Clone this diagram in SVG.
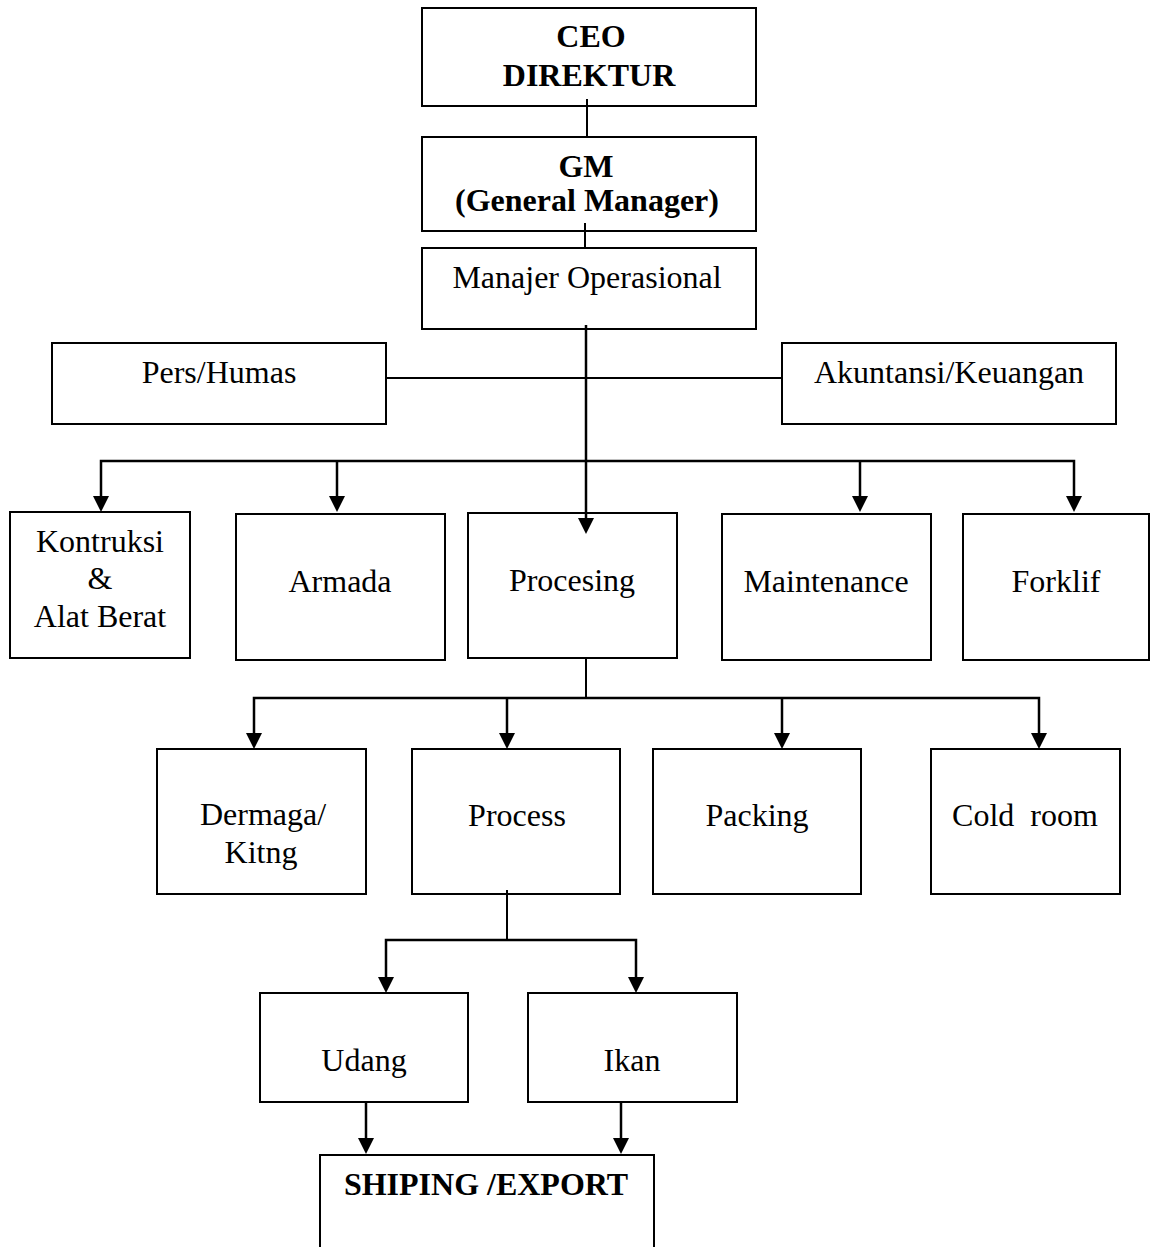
<svg xmlns="http://www.w3.org/2000/svg" width="1151" height="1247" viewBox="0 0 1151 1247">
<style>
.box{fill:#fff;stroke:#000;stroke-width:2}
.t{font-family:"Liberation Serif","Times New Roman",serif;font-size:32px;fill:#000;text-anchor:middle}
.b{font-weight:bold}
.c{fill:none;stroke:#000;stroke-width:2}
.a{fill:none;stroke:#000;stroke-width:2.5}
</style>
<defs>
<path id="ah" d="M-8,-16 L8,-16 L0,0 Z" fill="#000"/>
</defs>
<rect width="1151" height="1247" fill="#fff"/>
<g id="ceo"><rect class="box" x="422" y="8" width="334" height="98"/><text class="t b" x="591" y="47">CEO</text><text class="t b" x="589" y="86">DIREKTUR</text></g>
<g id="gm"><rect class="box" x="422" y="137" width="334" height="94"/><text class="t b" x="586" y="177">GM</text><text class="t b" x="587" y="211">(General Manager)</text></g>
<g id="manajer"><rect class="box" x="422" y="248" width="334" height="81"/><text class="t" x="587" y="288">Manajer Operasional</text></g>
<g id="pers"><rect class="box" x="52" y="343" width="334" height="81"/><text class="t" x="219" y="383">Pers/Humas</text></g>
<g id="akuntansi"><rect class="box" x="782" y="343" width="334" height="81"/><text class="t" x="949" y="383">Akuntansi/Keuangan</text></g>
<g id="kontruksi"><rect class="box" x="10" y="512" width="180" height="146"/><text class="t" x="100" y="552">Kontruksi</text><text class="t" x="100" y="589">&amp;</text><text class="t" x="100" y="627">Alat Berat</text></g>
<g id="armada"><rect class="box" x="236" y="514" width="209" height="146"/><text class="t" x="340" y="592">Armada</text></g>
<g id="procesing"><rect class="box" x="468" y="513" width="209" height="145"/><text class="t" x="572" y="591">Procesing</text></g>
<g id="maintenance"><rect class="box" x="722" y="514" width="209" height="146"/><text class="t" x="826" y="592">Maintenance</text></g>
<g id="forklif"><rect class="box" x="963" y="514" width="186" height="146"/><text class="t" x="1056" y="592">Forklif</text></g>
<g id="dermaga"><rect class="box" x="157" y="749" width="209" height="145"/><text class="t" x="263" y="825">Dermaga/</text><text class="t" x="261" y="863">Kitng</text></g>
<g id="process"><rect class="box" x="412" y="749" width="208" height="145"/><text class="t" x="517" y="826">Process</text></g>
<g id="packing"><rect class="box" x="653" y="749" width="208" height="145"/><text class="t" x="757" y="826">Packing</text></g>
<g id="coldroom"><rect class="box" x="931" y="749" width="189" height="145"/><text class="t" x="1025" y="826" xml:space="preserve">Cold  room</text></g>
<g id="udang"><rect class="box" x="260" y="993" width="208" height="109"/><text class="t" x="364" y="1071">Udang</text></g>
<g id="ikan"><rect class="box" x="528" y="993" width="209" height="109"/><text class="t" x="632" y="1071">Ikan</text></g>
<g id="shipping"><path class="c" d="M320,1250 L320,1155 L654,1155 L654,1250"/><text class="t b" x="486" y="1195">SHIPING /EXPORT</text></g>
<g id="connectors">
<line class="c" x1="587" y1="99" x2="587" y2="137"/>
<line class="c" x1="585" y1="223" x2="585" y2="248"/>
<line class="c" x1="386" y1="378" x2="782" y2="378"/>
<polyline class="a" points="101,500 101,461 1074,461 1074,500"/>
<line class="a" x1="337" y1="461" x2="337" y2="500"/>
<line class="a" x1="860" y1="461" x2="860" y2="500"/>
<line class="a" x1="586" y1="325" x2="586" y2="522"/>
<use href="#ah" x="101" y="512"/>
<use href="#ah" x="337" y="512"/>
<use href="#ah" x="586" y="534"/>
<use href="#ah" x="860" y="512"/>
<use href="#ah" x="1074" y="512"/>
<line class="c" x1="586" y1="658" x2="586" y2="698"/>
<polyline class="a" points="254,737 254,698 1039,698 1039,737"/>
<line class="a" x1="507" y1="698" x2="507" y2="737"/>
<line class="a" x1="782" y1="698" x2="782" y2="737"/>
<use href="#ah" x="254" y="749"/>
<use href="#ah" x="507" y="749"/>
<use href="#ah" x="782" y="749"/>
<use href="#ah" x="1039" y="749"/>
<line class="c" x1="507" y1="890" x2="507" y2="940"/>
<polyline class="a" points="386,981 386,940 636,940 636,981"/>
<use href="#ah" x="386" y="993"/>
<use href="#ah" x="636" y="993"/>
<line class="a" x1="366" y1="1102" x2="366" y2="1142"/>
<line class="a" x1="621" y1="1102" x2="621" y2="1142"/>
<use href="#ah" x="366" y="1154"/>
<use href="#ah" x="621" y="1154"/>
</g>
</svg>
